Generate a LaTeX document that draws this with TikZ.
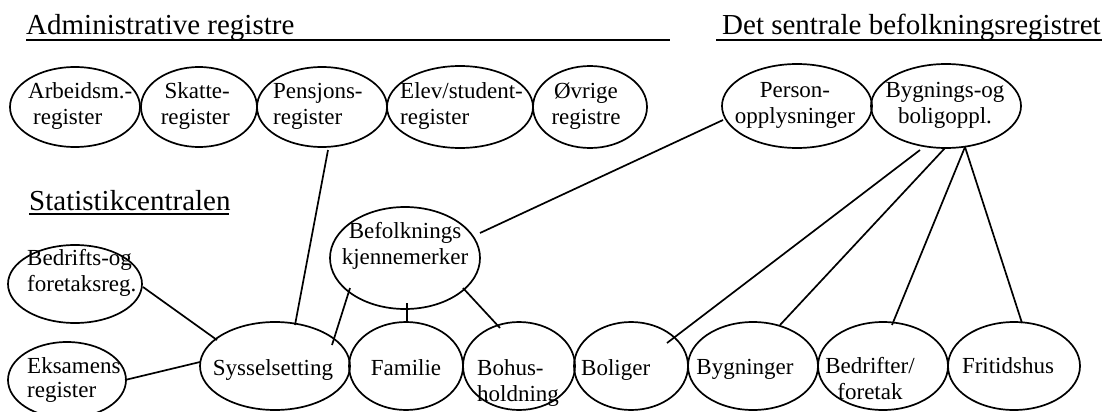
\documentclass[tikz,border=0pt]{standalone}
\usepackage{fontspec}
\setmainfont{Liberation Serif}
\usetikzlibrary{shapes.geometric,calc}
\begin{document}
\begin{tikzpicture}[x=1pt,y=-1pt,
  ell/.style={draw,ellipse,line width=1.7pt,inner sep=0pt},
  txt/.style={inner sep=0pt,font=\fontsize{23}{26}\selectfont},
  ttl/.style={inner sep=0pt,font=\fontsize{29}{34}\selectfont,anchor=base west},
  con/.style={line width=1.7pt},
  uline/.style={line width=1.3pt}]
\useasboundingbox (0,0) rectangle (1108,412);

% titles
\node[ttl] (adm) at (26,35) {Administrative registre};
\draw[uline] ([yshift=-5pt]adm.base west) -- ++(644,0);
\node[ttl] (det) at (722,35) {Det sentrale befolkningsregistret};
\draw[uline] ([xshift=-6pt,yshift=-5pt]det.base west) -- ++(386,0);
\node[ttl] (stat) at (29,210) {Statistikcentralen};
\draw[uline] ([yshift=-4pt]stat.base west) -- ++(200,0);

% top row ellipses
\node[ell,minimum width=130pt,minimum height=80pt] (arb) at (75,107) {};
\node[ell,minimum width=116pt,minimum height=80pt] (ska) at (199,107) {};
\node[ell,minimum width=130pt,minimum height=80pt] (pen) at (322,107) {};
\node[ell,minimum width=146pt,minimum height=82pt] (elev) at (460,107) {};
\node[ell,minimum width=114pt,minimum height=82pt] (ovr) at (590,107) {};
\node[ell,minimum width=150pt,minimum height=84pt] (per) at (797,106) {};
\node[ell,minimum width=150pt,minimum height=84pt] (byg) at (946,106) {};

% middle
\node[ell,minimum width=150pt,minimum height=102pt] (bef) at (405,258) {};
\node[ell,minimum width=134pt,minimum height=78pt] (bfo) at (75,284) {};
\node[ell,minimum width=118pt,minimum height=76pt] (eks) at (67,380) {};

% bottom row
\node[ell,minimum width=150pt,minimum height=88pt] (sys) at (275,366) {};
\node[ell,minimum width=114pt,minimum height=88pt] (fam) at (406,366) {};
\node[ell,minimum width=112pt,minimum height=88pt] (boh) at (519,366) {};
\node[ell,minimum width=114pt,minimum height=88pt] (bol) at (631,366) {};
\node[ell,minimum width=130pt,minimum height=88pt] (bygn) at (753,366) {};
\node[ell,minimum width=130pt,minimum height=88pt] (bedr) at (883,366) {};
\node[ell,minimum width=132pt,minimum height=88pt] (fri) at (1014,366) {};

% texts
\node[txt,align=left,anchor=north west] (arb-t) at (28,79.8) {\strut Arbeidsm.-\\\strut\hspace*{5pt}register};
\node[txt,align=right,anchor=north east] (ska-t) at (230,79.8) {\strut Skatte-\\\strut register};
\node[txt,align=left,anchor=north west] (pen-t) at (273,79.8) {\strut Pensjons-\\\strut register};
\node[txt,align=left,anchor=north west] (elev-t) at (400,79.8) {\strut Elev/student-\\\strut register};
\node[txt,align=center,anchor=north] (ovr-t) at (586,79.8) {\strut Øvrige\\\strut registre};
\node[txt,align=center,anchor=north] (per-t) at (795,78.8) {\strut Person-\\\strut opplysninger};
\node[txt,align=center,anchor=north] (byg-t) at (945,78.8) {\strut Bygnings-og\\\strut boligoppl.};
\node[txt,align=center,anchor=north] (bef-t) at (405,219.8) {\strut Befolknings\\\strut kjennemerker};
\node[txt,align=left,anchor=north west] (bfo-t) at (27,246.8) {\strut Bedrifts-og\\\strut foretaksreg.};
\node[txt,align=left,anchor=north west] (eks-t) at (27,354.8) {\strut Eksamens\\[-2pt]\strut register};
\node[txt,anchor=base] (sys-t) at (273,375) {Sysselsetting};
\node[txt,anchor=base] (fam-t) at (406,375) {Familie};
\node[txt,align=left,anchor=north west] (boh-t) at (477,356.8) {\strut Bohus-\\\strut holdning};
\node[txt,anchor=base west] (bol-t) at (581,375) {Boliger};
\node[txt,anchor=base] (bygn-t) at (745,374) {Bygninger};
\node[txt,align=center,anchor=north] (bedr-t) at (870,354.8) {\strut Bedrifter/\\\strut foretak};
\node[txt,anchor=base] (fri-t) at (1008,373) {Fritidshus};

% connectors
\draw[con] ($(pen)+(6,43)$) -- ($(sys)+(20,-41)$);
\draw[con] ($(per)+(-74,14)$) -- ($(bef)+(75,-25)$);
\draw[con] ($(bef)+(-55,30)$) -- ($(sys)+(57,-21)$);
\draw[con] ($(bef)+(2,45)$) -- ($(fam)+(1,-44)$);
\draw[con] ($(bef)+(58,30)$) -- ($(boh)+(-19,-38)$);
\draw[con] ($(bfo)+(68,3)$) -- ($(sys)+(-58,-26)$);
\draw[con] ($(eks)+(58,0)$) -- ($(sys)+(-75,-4)$);
\draw[con] ($(byg)+(-26,44)$) -- ($(bol)+(36,-23)$);
\draw[con] ($(byg)+(-1,42)$) -- ($(bygn)+(27,-41)$);
\draw[con] ($(byg)+(19,41)$) -- ($(bedr)+(9,-41)$);
\draw[con] ($(byg)+(19,41)$) -- ($(fri)+(8,-43)$);
\end{tikzpicture}
\end{document}
